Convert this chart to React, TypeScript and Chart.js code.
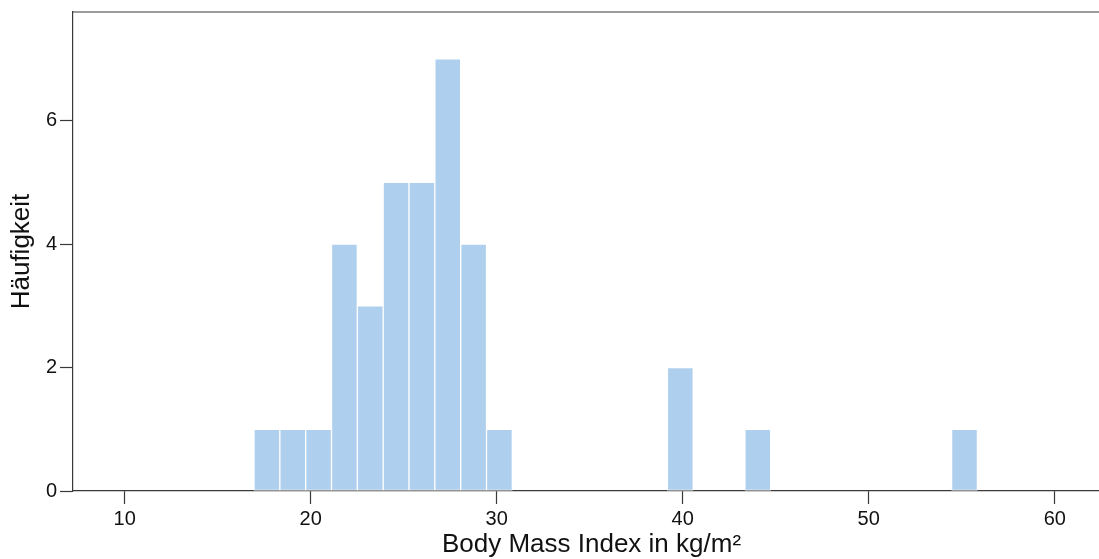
import React, { useEffect, useRef } from "react";
import { Chart, registerables } from "chart.js";

Chart.register(...registerables);

// Histogram bins: start, width and counts per bin
const binStart = 16.95;
const binWidth = 1.389;
const binCounts = [1, 1, 1, 4, 3, 5, 5, 7, 4, 1, 0, 0, 0, 0, 0, 0, 2, 0, 0, 1, 0, 0, 0, 0, 0, 0, 0, 1];
const xTicks = [10, 20, 30, 40, 50, 60];
const yTicks = [0, 2, 4, 6];
const xLabel = "Body Mass Index in kg/m²";
const yLabel = "Häufigkeit";

const FONT = "'Liberation Sans', Arial, Helvetica, sans-serif";
const AXIS = "#3a3a3a";

const topLine = {
  id: "topLine",
  afterDraw(chart: any) {
    const { ctx, chartArea } = chart;
    ctx.save();
    ctx.strokeStyle = AXIS;
    ctx.lineWidth = 1.2;
    ctx.beginPath();
    ctx.moveTo(chartArea.left, chartArea.top);
    ctx.lineTo(chartArea.right, chartArea.top);
    ctx.stroke();
    ctx.restore();
  },
};

export default function App() {
  const ref = useRef<HTMLCanvasElement | null>(null);
  useEffect(() => {
    if (!ref.current) return;
    const data = binCounts
      .map((c, i) => ({ x: binStart + (i + 0.5) * binWidth, y: c }))
      .filter((d) => d.y > 0);
    const chart = new Chart(ref.current, {
      type: "bar",
      data: {
        datasets: [
          {
            data,
            backgroundColor: "#aecfed",
            borderColor: "rgba(255,255,255,0.8)",
            borderWidth: 1,
            borderSkipped: false,
            barPercentage: 1,
            categoryPercentage: 1,
          },
        ],
      },
      options: {
        animation: false,
        responsive: false,
        maintainAspectRatio: false,
        layout: { padding: { top: 12, right: 0, left: 0, bottom: 0 } },
        plugins: { legend: { display: false }, tooltip: { enabled: false } },
        scales: {
          x: {
            type: "linear",
            min: 7.22,
            max: 62.97,
            offset: false,
            afterBuildTicks: (s: any) => {
              s.ticks = xTicks.map((v) => ({ value: v }));
            },
            afterFit: (s: any) => {
              s.height = 68;
              s.paddingLeft = 0;
              s.paddingRight = 0;
            },
            grid: {
              offset: false,
              drawOnChartArea: false,
              drawTicks: true,
              tickLength: 13,
              tickColor: AXIS,
              tickWidth: 1.2,
            },
            border: { display: true, color: AXIS, width: 1.2 },
            ticks: {
              color: "#111",
              padding: 3,
              maxRotation: 0,
              autoSkip: false,
              font: { family: FONT, size: 20 },
            },
            title: {
              display: true,
              text: xLabel,
              color: "#111",
              padding: { top: 0, bottom: -1 },
              font: { family: FONT, size: 26 },
            },
          },
          y: {
            type: "linear",
            min: 0,
            max: 7.76,
            afterBuildTicks: (s: any) => {
              s.ticks = yTicks.map((v) => ({ value: v }));
            },
            afterFit: (s: any) => {
              s.width = 73;
              s.paddingTop = 0;
              s.paddingBottom = 0;
            },
            grid: {
              drawOnChartArea: false,
              drawTicks: true,
              tickLength: 13,
              tickColor: AXIS,
              tickWidth: 1.2,
            },
            border: { display: true, color: AXIS, width: 1.2 },
            ticks: {
              color: "#111",
              padding: 3,
              font: { family: FONT, size: 20 },
            },
            title: {
              display: true,
              text: yLabel,
              color: "#111",
              padding: { top: 6, bottom: 0 },
              font: { family: FONT, size: 26 },
            },
          },
        },
      },
      plugins: [topLine],
    });
    return () => chart.destroy();
  }, []);
  return (
    <div
      style={{
        position: "fixed",
        left: 0,
        top: 0,
        width: 1099,
        height: 559,
        overflow: "hidden",
        background: "#fff",
      }}
    >
      <canvas ref={ref} width={1110} height={559} style={{ width: 1110, height: 559, display: "block" }} />
    </div>
  );
}
